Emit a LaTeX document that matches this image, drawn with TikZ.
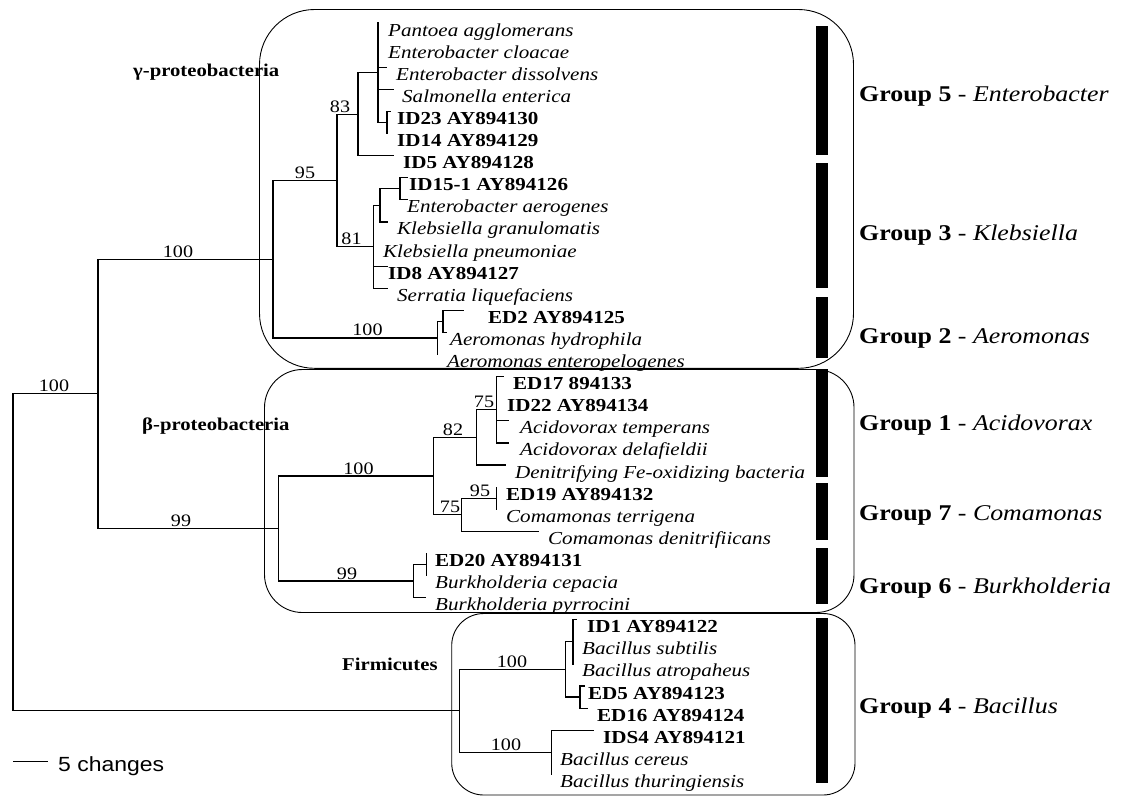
\documentclass[tikz,border=0pt]{standalone}
\usepackage{fontspec}
\setmainfont{Liberation Serif}[
  FakeStretch=1.15,
  UprightFeatures={FakeStretch=1.15},
  BoldFont={Liberation Serif Bold},
  BoldFeatures={FakeStretch=1.15},
  ItalicFont={Liberation Serif Italic},
  ItalicFeatures={FakeStretch=1.15},
  BoldItalicFont={Liberation Serif Bold Italic},
  BoldItalicFeatures={FakeStretch=1.15}]
\newfontfamily\scalefont{Liberation Sans}[FakeStretch=1.12]
\begin{document}
\begin{tikzpicture}[x=1pt,y=-1pt,
  branch/.style={line width=1.2pt,line join=miter,line cap=rect},
  clbox/.style={line width=0.9pt,rounded corners=#1},
  gbar/.style={fill=black,draw=none},
  sp/.style={anchor=base west,inner sep=0pt,font=\fontsize{18.3}{20}\selectfont\itshape},
  st/.style={anchor=base west,inner sep=0pt,font=\fontsize{18.3}{20}\selectfont\bfseries},
  bs/.style={anchor=base,inner sep=0pt,font=\fontsize{17.5}{19}\selectfont},
  clade/.style={anchor=base west,inner sep=0pt,font=\fontsize{18}{20}\selectfont\bfseries},
  grp/.style={anchor=base west,inner sep=0pt,font=\fontsize{22.5}{24}\selectfont},
  scl/.style={anchor=base west,inner sep=0pt,font=\fontsize{20.5}{22}\selectfont\scalefont}]
\useasboundingbox (0,0) rectangle (1123,796);
\fill[white] (0,0) rectangle (1123,796);

% clade boxes
\draw[clbox=55] (259.5,9.5) rectangle (853.5,368.3);
\draw[clbox=38] (264.5,369.5) rectangle (854,612.5);
\draw[clbox=32] (451.7,613.5) rectangle (855,795);

% group bars
\fill[gbar] (815.5,26) rectangle (828,155);
\fill[gbar] (815.5,163.3) rectangle (828,288.3);
\fill[gbar] (815.5,296.7) rectangle (828,358.3);
\fill[gbar] (815.5,369) rectangle (828,477);
\fill[gbar] (815.5,483) rectangle (828,540);
\fill[gbar] (815.5,548) rectangle (828,604);
\fill[gbar] (815.5,618) rectangle (828,783);

% internal nodes
\coordinate (root) at (13,552.35);
\coordinate (Nprot) at (98,393.85);
\coordinate (Nfirm) at (459.3,710.85);
\coordinate (Ngam) at (273,259.2);
\coordinate (Nbeta) at (278.3,528.5);
\coordinate (N95) at (337,180.45);
\coordinate (Naer) at (437.7,337.9);
\coordinate (N83) at (358,114.15);
\coordinate (N81) at (373.5,246.75);
\coordinate (Nent) at (378,72.7);
\coordinate (Nid) at (387,122.45);
\coordinate (NK) at (380,205.3);
\coordinate (NKK) at (400,188.75);
\coordinate (Naer2) at (443,321.35);
\coordinate (N100b) at (433.3,476.05);
\coordinate (Nburk) at (413.3,581.0);
\coordinate (N82) at (476.7,437.4);
\coordinate (Ncom) at (461.7,514.7);
\coordinate (N75a) at (496.7,409.75);
\coordinate (N95b) at (496.7,498.15);
\coordinate (Nburk2) at (426.7,564.45);
\coordinate (Nb1) at (565.7,669.4);
\coordinate (Nb2) at (551.7,752.3);
\coordinate (Nb1a) at (573,641.8);
\coordinate (Nb1b) at (580,697.05);

% leaf tips
\coordinate (t0) at (378,23.0);
\coordinate (t1) at (378,45.1);
\coordinate (t2) at (386,67.2);
\coordinate (t3) at (393,89.3);
\coordinate (t4) at (390,111.4);
\coordinate (t5) at (387,133.5);
\coordinate (t6) at (393,155.6);
\coordinate (t7) at (407,177.7);
\coordinate (t8) at (407,199.8);
\coordinate (t9) at (387,221.9);
\coordinate (t10) at (373.5,244.0);
\coordinate (t11) at (387,266.1);
\coordinate (t12) at (387,288.2);
\coordinate (t13) at (463,310.3);
\coordinate (t14) at (446,332.4);
\coordinate (t15) at (437.7,354.5);
\coordinate (t16) at (503,376.6);
\coordinate (t17) at (496.7,398.7);
\coordinate (t18) at (508,420.8);
\coordinate (t19) at (508,442.9);
\coordinate (t20) at (505,465.0);
\coordinate (t21) at (496.7,487.1);
\coordinate (t22) at (496.7,509.2);
\coordinate (t23) at (538.3,531.3);
\coordinate (t24) at (426.7,553.4);
\coordinate (t25) at (426.7,575.5);
\coordinate (t26) at (425,597.6);
\coordinate (t27) at (576,619.7);
\coordinate (t28) at (573,641.8);
\coordinate (t29) at (573,663.9);
\coordinate (t30) at (584,686.0);
\coordinate (t31) at (587,708.1);
\coordinate (t32) at (593.3,730.2);
\coordinate (t33) at (551.7,752.3);
\coordinate (t34) at (551.7,774.4);

% branches
\draw[branch] (root) |- (Nprot);
\draw[branch] (root) |- (Nfirm);
\draw[branch] (Nprot) |- (Ngam);
\draw[branch] (Nprot) |- (Nbeta);
\draw[branch] (Ngam) |- (N95);
\draw[branch] (Ngam) |- (Naer);
\draw[branch] (N95) |- (N83);
\draw[branch] (N95) |- (N81);
\draw[branch] (N83) |- (Nent);
\draw[branch] (N83) |- (t6);
\draw[branch] (Nent) |- (t0);
\draw[branch] (Nent) |- (t1);
\draw[branch] (Nent) |- (t2);
\draw[branch] (Nent) |- (t3);
\draw[branch] (Nent) |- (Nid);
\draw[branch] (Nid) |- (t4);
\draw[branch] (Nid) |- (t5);
\draw[branch] (N81) |- (NK);
\draw[branch] (N81) |- (t10);
\draw[branch] (N81) |- (t11);
\draw[branch] (N81) |- (t12);
\draw[branch] (NK) |- (NKK);
\draw[branch] (NK) |- (t9);
\draw[branch] (NKK) |- (t7);
\draw[branch] (NKK) |- (t8);
\draw[branch] (Naer) |- (Naer2);
\draw[branch] (Naer) |- (t15);
\draw[branch] (Naer2) |- (t13);
\draw[branch] (Naer2) |- (t14);
\draw[branch] (Nbeta) |- (N100b);
\draw[branch] (Nbeta) |- (Nburk);
\draw[branch] (N100b) |- (N82);
\draw[branch] (N100b) |- (Ncom);
\draw[branch] (N82) |- (N75a);
\draw[branch] (N82) |- (t20);
\draw[branch] (N75a) |- (t16);
\draw[branch] (N75a) |- (t17);
\draw[branch] (N75a) |- (t18);
\draw[branch] (N75a) |- (t19);
\draw[branch] (Ncom) |- (N95b);
\draw[branch] (Ncom) |- (t23);
\draw[branch] (N95b) |- (t21);
\draw[branch] (N95b) |- (t22);
\draw[branch] (Nburk) |- (Nburk2);
\draw[branch] (Nburk) |- (t26);
\draw[branch] (Nburk2) |- (t24);
\draw[branch] (Nburk2) |- (t25);
\draw[branch] (Nfirm) |- (Nb1);
\draw[branch] (Nfirm) |- (Nb2);
\draw[branch] (Nb1) |- (Nb1a);
\draw[branch] (Nb1) |- (Nb1b);
\draw[branch] (Nb1a) |- (t27);
\draw[branch] (Nb1a) |- (t28);
\draw[branch] (Nb1a) |- (t29);
\draw[branch] (Nb1b) |- (t30);
\draw[branch] (Nb1b) |- (t31);
\draw[branch] (Nb2) |- (t32);
\draw[branch] (Nb2) |- (t33);
\draw[branch] (Nb2) |- (t34);

% leaf labels
\node[sp] (l0) at (388,36.0) {Pantoea agglomerans};
\node[sp] (l1) at (388,58.1) {Enterobacter cloacae};
\node[sp] (l2) at (396,80.2) {Enterobacter dissolvens};
\node[sp] (l3) at (402,102.3) {Salmonella enterica};
\node[st] (l4) at (397,124.4) {ID23 AY894130};
\node[st] (l5) at (397,146.5) {ID14 AY894129};
\node[st] (l6) at (403,168.6) {ID5 AY894128};
\node[st] (l7) at (409,190.7) {ID15-1 AY894126};
\node[sp] (l8) at (407,212.8) {Enterobacter aerogenes};
\node[sp] (l9) at (397,234.9) {Klebsiella granulomatis};
\node[sp] (l10) at (383,257.0) {Klebsiella pneumoniae};
\node[st] (l11) at (388,279.1) {ID8 AY894127};
\node[sp] (l12) at (397,301.2) {Serratia liquefaciens};
\node[st] (l13) at (488,323.3) {ED2 AY894125};
\node[sp] (l14) at (450,345.4) {Aeromonas hydrophila};
\node[sp] (l15) at (447,367.5) {Aeromonas enteropelogenes};
\node[st] (l16) at (513,389.6) {ED17 894133};
\node[st] (l17) at (507,411.7) {ID22 AY894134};
\node[sp] (l18) at (520,433.8) {Acidovorax temperans};
\node[sp] (l19) at (520,455.9) {Acidovorax delafieldii};
\node[sp] (l20) at (515,478.0) {Denitrifying Fe-oxidizing bacteria};
\node[st] (l21) at (506,500.1) {ED19 AY894132};
\node[sp] (l22) at (506,522.2) {Comamonas terrigena};
\node[sp] (l23) at (548,544.3) {Comamonas denitrifiicans};
\node[st] (l24) at (435,566.4) {ED20 AY894131};
\node[sp] (l25) at (435,588.5) {Burkholderia cepacia};
\node[sp] (l26) at (435,610.6) {Burkholderia pyrrocini};
\node[st] (l27) at (587,632.7) {ID1 AY894122};
\node[sp] (l28) at (582,654.8) {Bacillus subtilis};
\node[sp] (l29) at (582,676.9) {Bacillus atropaheus};
\node[st] (l30) at (588,699.0) {ED5 AY894123};
\node[st] (l31) at (597,721.1) {ED16 AY894124};
\node[st] (l32) at (603,743.2) {IDS4 AY894121};
\node[sp] (l33) at (560,765.3) {Bacillus cereus};
\node[sp] (l34) at (560,787.4) {Bacillus thuringiensis};

% bootstrap values
\node[bs] (b1) at (54,391.8) {100};
\node[bs] (b2) at (178,257.2) {100};
\node[bs] (b3) at (305,178.4) {95};
\node[bs] (b4) at (340,112.1) {83};
\node[bs] (b5) at (351.5,244.7) {81};
\node[bs] (b6) at (367.5,335.9) {100};
\node[bs] (b7) at (181,526.5) {99};
\node[bs] (b8) at (358.5,474) {100};
\node[bs] (b9) at (453,435.4) {82};
\node[bs] (b10) at (484,407.7) {75};
\node[bs] (b11) at (450,512.7) {75};
\node[bs] (b12) at (480,496.1) {95};
\node[bs] (b13) at (347,579) {99};
\node[bs] (b14) at (512,667.4) {100};
\node[bs] (b15) at (506,750.3) {100};

% clade names
\node[clade] (cg) at (133,76.7) {γ-proteobacteria};
\node[clade] (cb) at (142,430) {β-proteobacteria};
\node[clade] (cf) at (342,670) {Firmicutes};

% group labels
\node[grp] (g5) at (859,101.7) {\textbf{Group 5} - \textit{Enterobacter}};
\node[grp] (g3) at (859,240) {\textbf{Group 3} - \textit{Klebsiella}};
\node[grp] (g2) at (859,343.3) {\textbf{Group 2} - \textit{Aeromonas}};
\node[grp] (g1) at (859,430) {\textbf{Group 1} - \textit{Acidovorax}};
\node[grp] (g7) at (859,520.7) {\textbf{Group 7} - \textit{Comamonas}};
\node[grp] (g6) at (859,593.3) {\textbf{Group 6} - \textit{Burkholderia}};
\node[grp] (g4) at (859,713.3) {\textbf{Group 4} - \textit{Bacillus}};

% scale bar
\coordinate (sb0) at (13,761);
\coordinate (sb1) at (48,761);
\draw[line width=1pt] (sb0) -- (sb1);
\node[scl] (sbl) at (58,771.7) {5 changes};
\end{tikzpicture}
\end{document}
